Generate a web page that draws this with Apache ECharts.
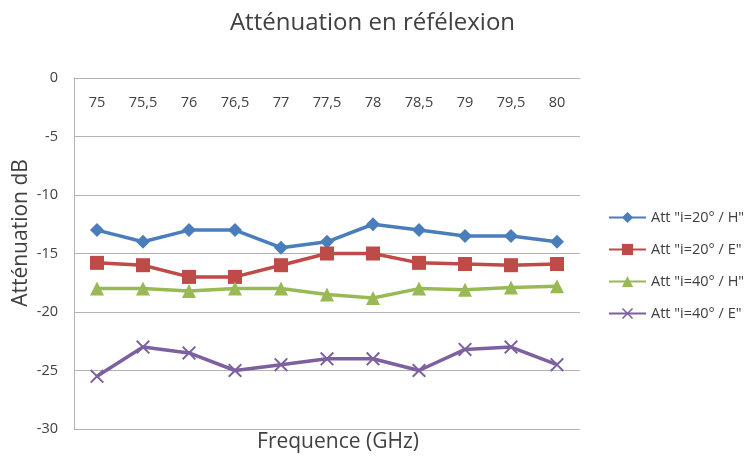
<!DOCTYPE html>
<html><head><meta charset="utf-8">
<script src="https://cdn.jsdelivr.net/npm/echarts@6/dist/echarts.min.js"></script>
<style>html,body{margin:0;padding:0;background:#fff}#c{width:745px;height:456px}</style>
</head><body><div id="c"></div>
<script>
const categories = ['75','75,5','76','76,5','77','77,5','78','78,5','79','79,5','80'];
const att20H = [-13, -14, -13, -13, -14.5, -14, -12.5, -13, -13.5, -13.5, -14];
const att20E = [-15.8, -16, -17, -17, -16, -15, -15, -15.8, -15.9, -16, -15.9];
const att40H = [-18, -18, -18.2, -18, -18, -18.5, -18.8, -18, -18.1, -17.9, -17.8];
const att40E = [-25.5, -23, -23.5, -25, -24.5, -24, -24, -25, -23.2, -23, -24.5];
const seriesNames = ['Att "i=20° / H"', 'Att "i=20° / E"', 'Att "i=40° / H"', 'Att "i=40° / E"'];
const yTicks = {min: -30, max: 0, step: 5};

const FONT = '"Open Sans", sans-serif';
const colors = ['#4A7EBB', '#BE4B48', '#98B954', '#7D60A0'];
const xPath = 'path://M0,1 L1,0 L5,4 L9,0 L10,1 L6,5 L10,9 L9,10 L5,6 L1,10 L0,9 L4,5 Z';
const symbols = ['diamond', 'rect', 'triangle', xPath];
const symSizes = [14, 14, 14, 14];
const datasets = [att20H, att20E, att40H, att40E];

const chart = echarts.init(document.getElementById('c'));
chart.setOption({
  animation: false,
  color: colors,
  title: {
    text: 'Atténuation en réfélexion',
    left: 'center', top: 6,
    textStyle: {fontFamily: FONT, fontSize: 24, fontWeight: 'normal', color: '#404040'}
  },
  grid: {left: 74, top: 78, right: 165, bottom: 27},
  legend: {
    orient: 'vertical', left: 603, top: 205, itemGap: 17,
    itemWidth: 37, itemHeight: 14,
    textStyle: {fontFamily: FONT, fontSize: 14.5, color: '#404040'},
    data: seriesNames
  },
  graphic: [{
    type: 'text', x: 338, y: 442,
    style: {text: 'Frequence (GHz)', font: '21px ' + FONT, fill: '#404040', textAlign: 'center', textVerticalAlign: 'middle'}
  }, {
    type: 'text', x: 21, y: 233, rotation: Math.PI / 2,
    style: {text: 'Atténuation dB', font: '21px ' + FONT, fill: '#404040', textAlign: 'center', textVerticalAlign: 'middle'}
  }],
  xAxis: {
    type: 'category', data: categories, position: 'top', boundaryGap: true,
    axisLine: {show: true, lineStyle: {color: '#B3B3B3', width: 1}},
    axisTick: {show: false},
    axisLabel: {inside: true, margin: 17, fontFamily: FONT, fontSize: 14.5, color: '#404040'},
    splitLine: {show: false}
  },
  yAxis: {
    type: 'value', min: yTicks.min, max: yTicks.max, interval: yTicks.step,
    axisLine: {show: true, lineStyle: {color: '#B3B3B3', width: 1}},
    axisTick: {show: false},
    axisLabel: {margin: 16, fontFamily: FONT, fontSize: 14.5, color: '#404040'},
    splitLine: {show: true, lineStyle: {color: '#B3B3B3', width: 1}}
  },
  series: datasets.map((d, i) => ({
    name: seriesNames[i], type: 'line', data: d,
    symbol: symbols[i], symbolSize: symSizes[i], showSymbol: true,
    lineStyle: {width: 3.5, color: colors[i]},
    itemStyle: {color: colors[i]}
  }))
});
</script></body></html>
